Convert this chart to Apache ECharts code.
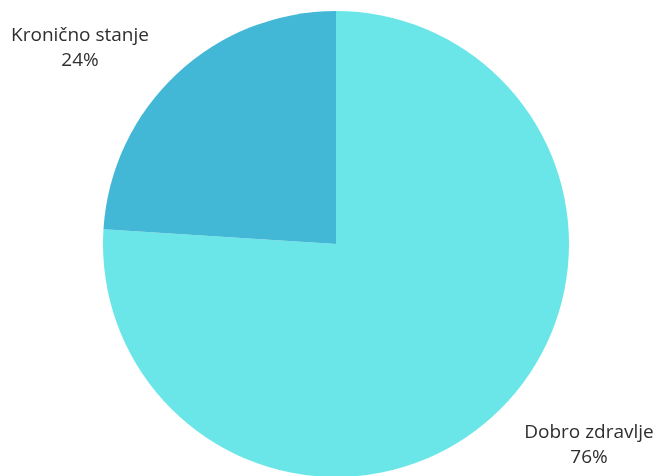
<!DOCTYPE html>
<html>
<head>
<meta charset="utf-8">
<script src="https://cdn.jsdelivr.net/npm/echarts@6/dist/echarts.min.js"></script>
<style>html,body{margin:0;padding:0;background:#fff;}#c{width:656px;height:476px;}</style>
</head>
<body>
<div id="c"></div>
<script>
const categories = ['Dobro zdravlje', 'Kronično stanje'];
const values = [76, 24];
const colors = ['#6ae6e8', '#43b8d6'];
const labelPos = [[589, 445], [80, 48]];

const chart = echarts.init(document.getElementById('c'), null, {renderer: 'canvas'});
chart.setOption({
  animation: false,
  series: [{
    type: 'pie',
    center: [336, 244],
    radius: [0, 233],
    startAngle: 90,
    clockwise: true,
    data: categories.map((n, i) => ({name: n, value: values[i], itemStyle: {color: colors[i]}})),
    label: {
      show: true,
      position: 'outside',
      formatter: '{b}\n{c}%',
      color: '#2e2e2e',
      fontSize: 19,
      lineHeight: 25,
      overflow: 'none',
      fontFamily: 'Open Sans'
    },
    labelLine: {show: false},
    labelLayout: function (p) {
      const pos = labelPos[p.dataIndex];
      return {x: pos[0], y: pos[1], align: 'center', verticalAlign: 'middle'};
    }
  }]
});
</script>
</body>
</html>
